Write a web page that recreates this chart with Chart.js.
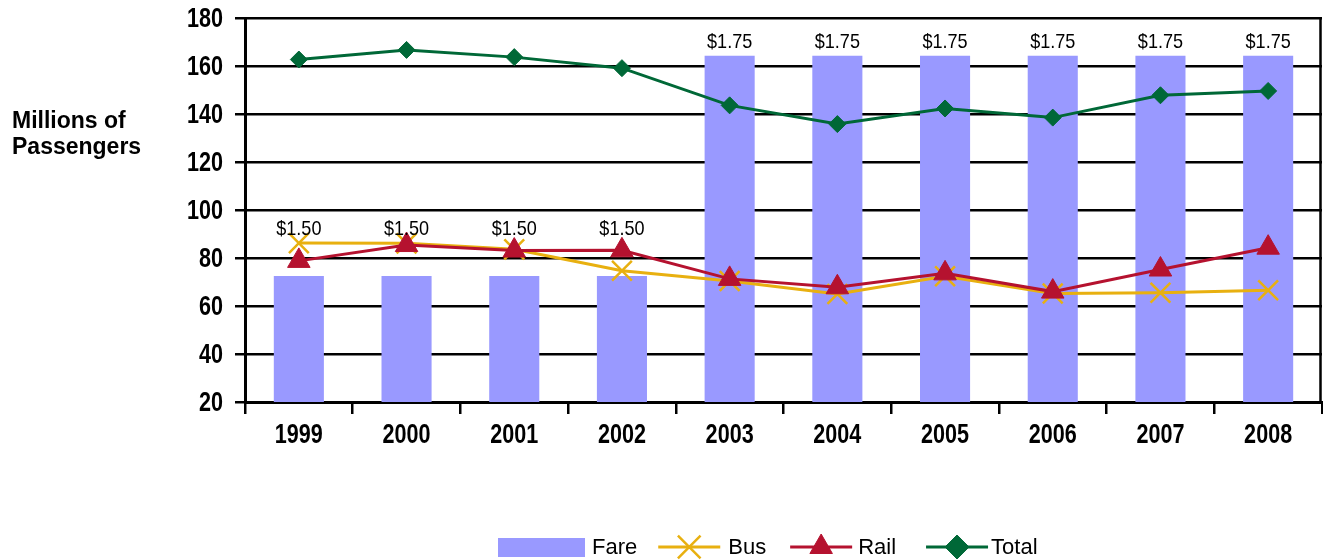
<!DOCTYPE html>
<html>
<head>
<meta charset="utf-8">
<script src="https://cdn.jsdelivr.net/npm/chart.js@4.4.1/dist/chart.umd.min.js"></script>
<style>
  html, body { margin: 0; padding: 0; background: #ffffff; overflow: hidden; }
  #wrap { position: relative; width: 1323px; height: 560px; }
</style>
</head>
<body>
<div id="wrap"><canvas id="ridership" width="1323" height="560"></canvas></div>
<script>
// Annual ridership (millions of passengers) and base fare by year
const years = ['1999', '2000', '2001', '2002', '2003', '2004', '2005', '2006', '2007', '2008'];
const fare  = [1.50, 1.50, 1.50, 1.50, 1.75, 1.75, 1.75, 1.75, 1.75, 1.75];
const bus   = [86.2, 86.1, 83.6, 74.7, 70.4, 65.0, 72.4, 65.2, 65.5, 66.6];
const rail  = [78.8, 85.4, 83.1, 83.2, 71.3, 67.8, 73.6, 66.0, 75.2, 84.3];
const total = [162.7, 166.7, 163.7, 159.1, 143.6, 135.8, 142.3, 138.5, 147.8, 149.6];
const yTicks = [20, 40, 60, 80, 100, 120, 140, 160, 180];

// The fare bars sit on their own hidden axis
const fareAxisMin = 1.357;
const fareAxisMax = 1.793;

const COLORS = {
  fare: '#9999FF',
  bus: '#E8B010',
  rail: '#B5122F',
  total: '#006837',
  ink: '#000000'
};

const plainFamily = "'Liberation Sans', Arial, Helvetica, sans-serif";

// Condensed lettering: regular faces squeezed horizontally
function drawSqueezed(c, text, x, y, align, squeeze) {
  c.save();
  c.translate(x, y);
  c.scale(squeeze, 1);
  c.textAlign = align;
  c.fillText(text, 0, 0);
  c.restore();
}

// Axis title drawn at the left, two lines, horizontal
const axisTitle = {
  id: 'axisTitle',
  afterDraw(chart) {
    const c = chart.ctx;
    c.save();
    c.fillStyle = COLORS.ink;
    c.font = 'bold 23px ' + plainFamily;
    c.textAlign = 'left';
    c.textBaseline = 'alphabetic';
    c.fillText('Millions of', 12, 128);
    c.fillText('Passengers', 12, 154);
    c.restore();
  }
};

// Tick labels of both axes, in condensed bold
const tickLabels = {
  id: 'tickLabels',
  afterDraw(chart) {
    const c = chart.ctx;
    const sx = chart.scales.x;
    const sy = chart.scales.y;
    c.save();
    c.fillStyle = COLORS.ink;
    c.font = 'bold 27px ' + plainFamily;
    c.textBaseline = 'middle';
    sy.ticks.forEach((t, i) => {
      drawSqueezed(c, String(t.value), sy.right - 22, sy.getPixelForTick(i) + 2, 'right', 0.8);
    });
    c.textBaseline = 'alphabetic';
    sx.ticks.forEach((t, i) => {
      drawSqueezed(c, sx.getLabelForValue(t.value), sx.getPixelForTick(i), sx.top + 41, 'center', 0.8);
    });
    c.restore();
  }
};

// Right frame edge of the plot
const rightEdge = {
  id: 'rightEdge',
  beforeDatasetsDraw(chart) {
    const { ctx: c, chartArea: a } = chart;
    c.save();
    c.strokeStyle = COLORS.ink;
    c.lineWidth = 2.5;
    c.beginPath();
    c.moveTo(a.right - 1.5, a.top - 1);
    c.lineTo(a.right - 1.5, a.bottom);
    c.stroke();
    c.restore();
  }
};

// Fare value labels above each bar; bars with the same fare share one label row
const fareLabels = {
  id: 'fareLabels',
  afterDatasetsDraw(chart) {
    const c = chart.ctx;
    const ds = chart.data.datasets;
    const fareIdx = ds.findIndex(d => d.label === 'Fare');
    const barMeta = chart.getDatasetMeta(fareIdx);
    const lineMetas = ['Bus', 'Rail'].map(l => chart.getDatasetMeta(ds.findIndex(d => d.label === l)));
    const groupTop = {};
    barMeta.data.forEach((bar, i) => {
      const key = ds[fareIdx].data[i].toFixed(2);
      let top = bar.y;
      lineMetas.forEach(m => { top = Math.min(top, m.data[i].y); });
      groupTop[key] = groupTop[key] === undefined ? top : Math.min(groupTop[key], top);
    });
    c.save();
    c.fillStyle = COLORS.ink;
    c.font = '21px ' + plainFamily;
    c.textBaseline = 'middle';
    barMeta.data.forEach((bar, i) => {
      const key = ds[fareIdx].data[i].toFixed(2);
      drawSqueezed(c, '$' + key, bar.x, groupTop[key] - 14, 'center', 0.86);
    });
    c.restore();
  }
};

function drawMarker(c, style, x, y, r) {
  if (style === 'crossRot') {
    const o = r * Math.SQRT1_2;
    c.moveTo(x - o, y - o); c.lineTo(x + o, y + o);
    c.moveTo(x + o, y - o); c.lineTo(x - o, y + o);
  } else if (style === 'triangle') {
    c.moveTo(x, y - r);
    c.lineTo(x + r * Math.sin(Math.PI * 2 / 3), y + r / 2);
    c.lineTo(x - r * Math.sin(Math.PI * 2 / 3), y + r / 2);
    c.closePath();
  } else {
    c.moveTo(x, y - r); c.lineTo(x + r, y); c.lineTo(x, y + r); c.lineTo(x - r, y);
    c.closePath();
  }
}

// Legend row: bar swatch, then line-with-marker swatches
const legendRow = {
  id: 'legendRow',
  afterDraw(chart) {
    const c = chart.ctx;
    const ds = chart.data.datasets;
    const items = ['Fare', 'Bus', 'Rail', 'Total'].map(l => ds.find(d => d.label === l));
    const iconGaps = [7, 8, 6, 3];
    const itemGaps = [21, 24, 30, 0];
    const cy = 547;
    let x = 498;
    c.save();
    c.font = '22px ' + plainFamily;
    items.forEach((d, k) => {
      if (d.type === 'line') {
        const mid = x + 31;
        c.strokeStyle = d.borderColor;
        c.lineWidth = 3;
        c.beginPath();
        c.moveTo(x, cy);
        c.lineTo(x + 62, cy);
        c.stroke();
        c.fillStyle = d.backgroundColor;
        c.lineWidth = d.pointBorderWidth || 1;
        c.beginPath();
        drawMarker(c, d.pointStyle, mid, cy, d.legendRadius);
        if (d.pointStyle !== 'crossRot') c.fill();
        c.stroke();
        x += 62 + iconGaps[k];
      } else {
        c.fillStyle = d.backgroundColor;
        c.fillRect(x, cy - 9, 87, 19);
        x += 87 + iconGaps[k];
      }
      c.fillStyle = COLORS.ink;
      c.textAlign = 'left';
      c.textBaseline = 'middle';
      c.fillText(d.label, x, cy + 1);
      x += c.measureText(d.label).width + itemGaps[k];
    });
    c.restore();
  }
};

new Chart(document.getElementById('ridership'), {
  type: 'bar',
  data: {
    labels: years,
    datasets: [
      {
        type: 'bar', label: 'Fare', data: fare, yAxisID: 'yFare',
        backgroundColor: COLORS.fare, borderWidth: 0,
        barPercentage: 0.465, categoryPercentage: 1.0, order: 10
      },
      {
        type: 'line', label: 'Bus', data: bus, yAxisID: 'y',
        borderColor: COLORS.bus, backgroundColor: COLORS.bus, borderWidth: 3,
        pointStyle: 'crossRot', pointRadius: 14, pointBorderWidth: 2.5, legendRadius: 16,
        tension: 0, order: 3
      },
      {
        type: 'line', label: 'Rail', data: rail, yAxisID: 'y',
        borderColor: COLORS.rail, backgroundColor: COLORS.rail, borderWidth: 3,
        pointStyle: 'triangle', pointRadius: 13, pointBorderWidth: 1, legendRadius: 13,
        tension: 0, order: 1
      },
      {
        type: 'line', label: 'Total', data: total, yAxisID: 'y',
        borderColor: COLORS.total, backgroundColor: COLORS.total, borderWidth: 3,
        pointStyle: 'rectRot', pointRadius: 8.5, pointBorderWidth: 1, legendRadius: 12,
        tension: 0, order: 2
      }
    ]
  },
  options: {
    responsive: false,
    animation: false,
    events: [],
    layout: { autoPadding: false, padding: { top: 18, right: 1, left: 0, bottom: 0 } },
    plugins: { legend: { display: false }, tooltip: { enabled: false } },
    scales: {
      x: {
        offset: true,
        grid: {
          display: true, offset: true, drawOnChartArea: false, drawTicks: true,
          tickLength: 12, color: COLORS.ink, lineWidth: 2.5
        },
        border: { display: true, color: COLORS.ink, width: 3 },
        ticks: { display: false, autoSkip: false },
        afterFit(s) { s.height = 158; }
      },
      y: {
        position: 'left',
        min: yTicks[0], max: yTicks[yTicks.length - 1],
        afterBuildTicks(s) { s.ticks = yTicks.map(v => ({ value: v })); },
        ticks: { display: false },
        grid: { color: COLORS.ink, lineWidth: 2.5, tickLength: 10, drawTicks: true },
        border: { display: true, color: COLORS.ink, width: 3 },
        afterFit(s) { s.width = 245; }
      },
      yFare: {
        display: false, position: 'right',
        min: fareAxisMin, max: fareAxisMax
      }
    }
  },
  plugins: [axisTitle, rightEdge, fareLabels, tickLabels, legendRow]
});
</script>
</body>
</html>
